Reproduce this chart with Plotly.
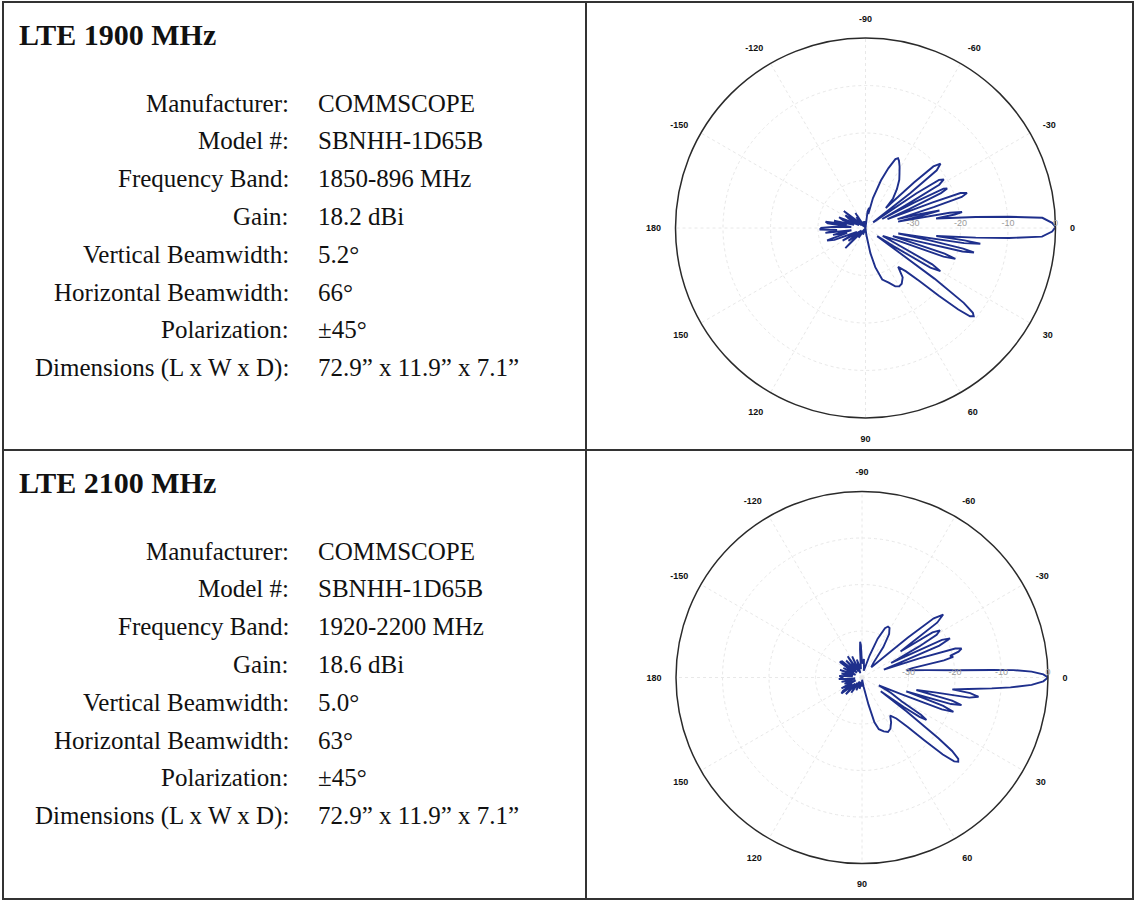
import plotly.graph_objects as go

W, H = 1135, 902

# ---------------- data ----------------
labels = ["Manufacturer:", "Model #:", "Frequency Band:", "Gain:", "Vertical Beamwidth:",
          "Horizontal Beamwidth:", "Polarization:", "Dimensions (L x W x D):"]
values_1900 = ["COMMSCOPE", "SBNHH-1D65B", "1850-896 MHz", "18.2 dBi", "5.2°", "66°", "±45°",
               "72.9\u201d x 11.9\u201d x 7.1\u201d"]
values_2100 = ["COMMSCOPE", "SBNHH-1D65B", "1920-2200 MHz", "18.6 dBi", "5.0°", "63°", "±45°",
               "72.9\u201d x 11.9\u201d x 7.1\u201d"]
titles = ["LTE 1900 MHz", "LTE 2100 MHz"]

angle_ticks = [0, 30, 60, 90, 120, 150, 180, 210, 240, 270, 300, 330]
angle_text = ["0", "30", "60", "90", "120", "150", "180", "-150", "-120", "-90", "-60", "-30"]
radial_ticks = [-30, -20, -10, 0]
radial_text = ["-30", "-20", "-10", "0"]

# LTE 1900 MHz vertical pattern (deg, dB)
theta_1900 = [
    -180, -178, -176, -173, -171, -169, -167, -165, -161, -158,
    -155, -151, -148, -145, -142, -139, -135, -130, -127, -124,
    -120, -112, -104, -96, -88,
    -83, -80, -78.5, -76, -72, -69, -66.5, -65, -63.5, -61, -58, -55, -51, -47, -44.5,
    -43.2, -42.2, -40.6, -39.0, -38, -36.5, -34.2, -33.2, -31.8, -30.4,
    -29.5, -28.3, -27.6, -26.8, -25.8, -24.8, -23.5, -22, -20.9, -20.2,
    -19, -17.9, -17, -15.5, -14.2, -13.3, -12.3, -11, -10.3, -9.4,
    -8.6, -7.7,
    -5.7, -4.5, -3.3, -1.6, -0.3, 1.1, 2.8, 4.0, 5.0, 6.4,
    7.1, 7.8, 8.7, 9.5, 11, 11.9, 12.7, 13.6, 14.5, 16.5,
    17.9, 19, 20.1, 21.5, 25, 28.6, 30, 31.4, 33, 35,
    36.3, 37.3, 38.3, 39.2, 40.2, 41.3, 42.7, 44.5, 47, 50,
    53, 57, 60, 63, 67, 72, 76, 79, 83, 88,
    95, 102, 110, 118, 125, 130, 135, 139, 143, 147,
    151, 155, 159, 162, 165, 168, 171, 173, 176, 178, 180,
]
gain_1900 = [
    -30.5, -33, -37, -32, -31.5, -36, -33.2, -37.5, -35, -34,
    -38.5, -36, -35, -39, -34.2, -38, -39.5, -37, -39.5, -36.2,
    -40, -38.5, -40, -38.5, -40,
    -36.5, -35.7, -37, -33.5, -29.5, -26.5, -24.2, -23.8, -24.2, -25.2, -26.5, -27.6, -29.5, -31.5, -34,
    -26, -20.7, -19.2, -20.7, -28, -38, -27, -21.5, -20.6, -22,
    -30, -36, -28, -21.6, -20.9, -22.5, -30, -35, -25, -18.7,
    -17.4, -18.7, -25, -33, -28, -24, -28, -33, -22, -19.4,
    -21, -25,
    -16.7, -9.7, -2.7, -0.7, 0, -0.7, -2.8, -9.7, -16.7, -25,
    -19, -15.6, -19, -33, -26, -19, -16.6, -19, -30, -34,
    -22.5, -20, -22.5, -33, -36, -24, -21.8, -24, -33, -37,
    -22, -14, -11.2, -10.6, -11.2, -14, -19, -24, -27.5, -29.3,
    -27, -26, -25.8, -26.2, -27.5, -28.6, -31.5, -34.6, -38.5, -40,
    -39, -40, -38.5, -40, -37.5, -39.5, -34, -38.5, -35.5, -39,
    -34.5, -38, -33, -31.5, -36, -33, -37, -31.5, -34, -30.5, -30.5,
]

# LTE 2100 MHz vertical pattern (deg, dB)
theta_2100 = [
    -180, -176, -173, -169, -165, -161, -157, -153, -149, -145,
    -141, -137, -133, -128, -124, -119, -115, -110, -106, -100,
    -97, -94, -93, -92, -90, -84, -78, -75, -71, -68,
    -65, -63, -61, -58, -55, -52, -48, -44, -41, -39.5,
    -37.8, -36.1, -35, -34, -32.6, -31.2, -29.8, -28.5, -26.5, -25.2,
    -23.9, -22.4, -20, -18.5, -17.3, -16.2, -15, -13.8, -12.7, -11.8,
    -10.5, -9.3,
    -6.5, -4.4, -3.3, -2.8, -2, -1, 0, 1.2, 2.5, 3.8, 4.8, 6.2, 7.5,
    8.2, 9.4, 10.6, 11.5, 13, 14.4, 15.5, 16.6, 17.5, 19.3,
    20.6, 21.8, 23, 25, 28, 31, 32.3, 33.4, 34.4, 35.2, 36.2,
    37.3, 38.5, 39.2, 40.2, 41.2, 42.3, 43.6, 45.2, 47.3, 50,
    53.5, 57, 61, 64.5, 68, 72, 74.5, 76.5, 80, 86, 91,
    96, 102, 108, 114, 120, 125, 130, 134, 138, 142,
    145, 148, 152, 156, 160, 164, 168, 172, 176, 180,
]
gain_2100 = [
    -36, -35.1, -38, -35.5, -38, -35, -38.5, -35.5, -38, -34.2,
    -34.5, -38.5, -35, -38, -34.5, -38.5, -35, -39, -36, -38,
    -38, -34, -32.3, -33, -37, -36, -38, -38.5, -35, -31,
    -28.3, -27.7, -27.8, -29, -32, -36, -37, -35, -27, -20,
    -17.9, -20, -27, -30, -22, -20.4, -21.5, -26, -33, -21,
    -19.3, -22, -35, -27, -19, -17.7, -18.5, -20.5, -19.9, -22,
    -29, -30.3,
    -26, -19.6, -12, -7.4, -3.5, -1, 0, -1, -3.5, -8, -12, -17, -20.4,
    -16.5, -14.6, -16.5, -24, -28, -20, -17.8, -20, -30, -21.5,
    -19, -21.5, -31, -36, -33, -30, -25, -23.4, -25, -29, -35,
    -28, -19, -15, -12.9, -12.5, -13.2, -16, -21, -25.5, -28.5,
    -29.8, -28.5, -27.4, -27, -27.5, -28.3, -30, -34, -38, -39.5, -38,
    -39, -37.5, -39, -37, -39, -36, -38.5, -35, -38, -34.4,
    -35, -37.5, -35, -38.5, -36, -38, -35.5, -38.5, -35, -36,
]

# ---------------- figure ----------------
def px(x):
    return x / W

def py(y):
    return 1 - y / H

fig = go.Figure()
LINE_COLOR = "#1e2f8c"
fig.add_trace(go.Scatterpolar(theta=theta_1900 + theta_1900[:1], r=gain_1900 + gain_1900[:1],
                              mode="lines", line=dict(color=LINE_COLOR, width=1.9),
                              subplot="polar", showlegend=False, hoverinfo="skip"))
fig.add_trace(go.Scatterpolar(theta=theta_2100 + theta_2100[:1], r=gain_2100 + gain_2100[:1],
                              mode="lines", line=dict(color=LINE_COLOR, width=1.9),
                              subplot="polar2", showlegend=False, hoverinfo="skip"))


def polar_layout(cx, cy, rad):
    return dict(
        domain=dict(x=[px(cx - rad), px(cx + rad)], y=[py(cy + rad), py(cy - rad)]),
        bgcolor="white",
        angularaxis=dict(
            direction="clockwise", rotation=0,
            tickmode="array", tickvals=angle_ticks, ticktext=angle_text,
            tickfont=dict(family="Liberation Sans", size=9, color="#111", weight="bold"),
            ticks="outside", ticklen=12, tickcolor="rgba(0,0,0,0)",
            showline=True, linecolor="#2a2a2a", linewidth=1.5,
            showgrid=True, gridcolor="#e8e8e8", griddash="dot", gridwidth=1,
        ),
        radialaxis=dict(
            range=[-40, 0], angle=0, side="counterclockwise",
            tickmode="array", tickvals=radial_ticks, ticktext=radial_text,
            tickfont=dict(family="Liberation Sans", size=9, color="#9a9a9a"),
            ticks="", showline=False,
            showgrid=True, gridcolor="#e8e8e8", griddash="dot", gridwidth=1,
        ),
    )


annotations = []
panel_offsets = [0, 448]
for k, (off, vals) in enumerate(zip(panel_offsets, [values_1900, values_2100])):
    annotations.append(dict(
        x=px(17), y=py(34 + off), xref="paper", yref="paper", text=titles[k],
        showarrow=False, xanchor="left", yanchor="middle",
        font=dict(family="Liberation Serif", size=30, color="#111", weight="bold")))
    for i, (lab, val) in enumerate(zip(labels, vals)):
        yy = 103 + 37.8 * i + off
        annotations.append(dict(
            x=px(291), y=py(yy), xref="paper", yref="paper", text=lab,
            showarrow=False, xanchor="right", yanchor="middle",
            font=dict(family="Liberation Serif", size=25, color="#111")))
        annotations.append(dict(
            x=px(316), y=py(yy), xref="paper", yref="paper", text=val,
            showarrow=False, xanchor="left", yanchor="middle",
            font=dict(family="Liberation Serif", size=25, color="#111")))

border = dict(color="#333333", width=2)
shapes = [
    dict(type="rect", xref="paper", yref="paper", x0=px(3), x1=px(1133), y0=py(899), y1=py(2), line=border),
    dict(type="line", xref="paper", yref="paper", x0=px(586), x1=px(586), y0=py(899), y1=py(2), line=border),
    dict(type="line", xref="paper", yref="paper", x0=px(3), x1=px(1133), y0=py(450), y1=py(450), line=border),
]

fig.update_layout(
    width=W, height=H,
    margin=dict(l=0, r=0, t=0, b=0),
    paper_bgcolor="white", plot_bgcolor="white",
    polar=polar_layout(865.5, 228, 190),
    polar2=polar_layout(862, 677.5, 186),
    annotations=annotations, shapes=shapes,
    showlegend=False,
)

fig.write_html("out.html", config={"displayModeBar": False},
               post_script="document.body.style.margin='0px';document.body.style.overflow='hidden';")
